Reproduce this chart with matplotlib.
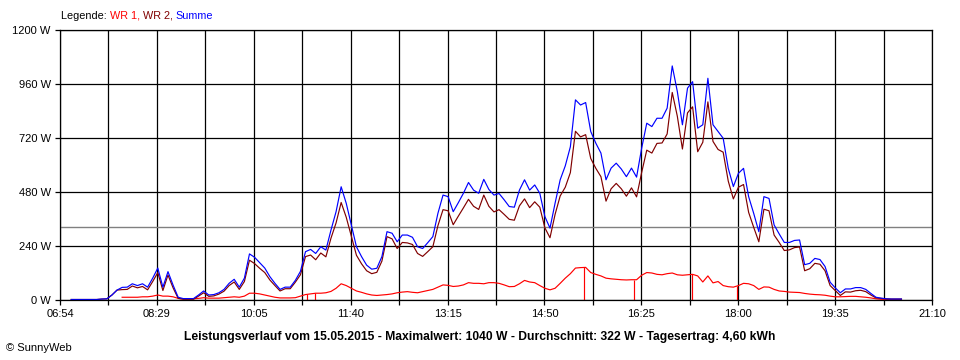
import numpy as np
import pandas as pd
import matplotlib
matplotlib.use('Agg')
import matplotlib.pyplot as plt

plt.rcParams['font.family'] = ['Liberation Sans', 'DejaVu Sans']

# 5-minute samples, 07:05 .. 20:40
times = pd.date_range('2015-05-15 07:05', '2015-05-15 20:40', freq='5min')

# WR 1 (no data before 07:55)
wr1 = [None] * 10 + [
    10, 10, 10, 10, 12, 12, 15, 20, 15, 15, 12, 5,
    3, 3, 3, 5, 8, 6, 6, 6, 8, 10, 12, 10, 15,
    28, 28, 25, 20, 15, 10, 7, 7, 7, 8, 15, 22,
    25, 28, 28, 30, 36, 50, 70, 62, 50, 38, 32, 25,
    20, 18, 20, 22, 25, 30, 33, 35, 32, 30, 35, 40,
    45, 55, 65, 63, 58, 60, 65, 75, 72, 72, 70, 75,
    75, 72, 65, 57, 58, 70, 85, 78, 75, 62, 50, 43,
    50, 72, 95, 115, 140, 142, 143, 120, 112, 105, 95, 92,
    90, 88, 87, 88, 88, 108, 120, 118, 112, 110, 115, 118,
    110, 108, 110, 112, 105, 78, 105, 74, 80, 62, 57, 55,
    62, 72, 70, 62, 45, 56, 55, 45, 38, 36, 33, 32,
    31, 27, 24, 22, 21, 19, 15, 12, 12, 13, 14, 14,
    12, 10, 7, 3, 1, 0, 0, 0, 0,
]

# WR 2
wr2 = [
    0, 0, 0, 0, 0, 0, 2, 3, 20, 42,
    44, 45, 60, 52, 58, 43, 80, 120, 40, 109, 52, 5,
    1, 1, 1, 15, 30, 14, 16, 24, 37, 62, 78, 45, 80,
    175, 160, 139, 120, 87, 62, 38, 48, 48, 77, 110, 191,
    198, 177, 207, 190, 273, 341, 432, 366, 282, 197, 159, 128,
    115, 121, 171, 280, 270, 227, 254, 252, 245, 205, 192, 213,
    235, 329, 400, 395, 333, 371, 408, 446, 415, 401, 465, 415,
    390, 400, 379, 357, 353, 417, 448, 409, 435, 411, 319, 275,
    379, 461, 500, 565, 749, 724, 734, 628, 584, 547, 438, 493,
    517, 493, 460, 497, 457, 566, 665, 652, 695, 697, 737, 922,
    816, 670, 831, 858, 658, 700, 880, 704, 668, 656, 527, 448,
    500, 512, 388, 321, 257, 402, 395, 287, 254, 218, 221, 231,
    234, 128, 137, 161, 157, 128, 62, 40, 18, 34, 33, 39,
    41, 35, 20, 7, 5, 3, 2, 2, 2,
]

# short drop-outs of WR 1
dip_times = ['10:56', '11:04', '15:28', '16:17', '17:14', '17:59']

avg_w = 322
x_labels = ['06:54', '08:29', '10:05', '11:40', '13:15', '14:50',
            '16:25', '18:00', '19:35', '21:10']
y_ticks = [0, 240, 480, 720, 960, 1200]
title = ('Leistungsverlauf vom 15.05.2015 - Maximalwert: 1040 W - '
         'Durchschnitt: 322 W - Tagesertrag: 4,60 kWh')

t = np.array(times.hour * 60 + times.minute, dtype=float)
w1 = np.array([np.nan if v is None else v for v in wr1], dtype=float)
w2 = np.array(wr2, dtype=float)
summe = np.nan_to_num(w1) + w2

def to_min(s):
    h, m = s.split(':')
    return int(h) * 60 + int(m)

fig = plt.figure(figsize=(9.6, 3.6), dpi=100)
ax = fig.add_axes([60 / 960, 60.5 / 360, 872 / 960, 269.5 / 360])

x0, x1 = to_min(x_labels[0]), to_min(x_labels[-1])
ax.set_xlim(x0, x1)
ax.set_ylim(0, 1200)

xt = np.linspace(x0, x1, 2 * len(x_labels) - 1)
xl = []
for i in range(len(xt)):
    xl.append(x_labels[i // 2] if i % 2 == 0 else '')
ax.set_xticks(xt)
ax.set_xticklabels(xl)
ax.set_yticks(y_ticks)
ax.set_yticklabels([f'{v} W' for v in y_ticks])

ax.grid(True, color='black', lw=0.9)
ax.set_axisbelow(True)
for s in ax.spines.values():
    s.set_color('black')
    s.set_linewidth(0.9)
ax.tick_params(length=3.6, width=0.9, direction='out', labelsize=8,
               colors='black', pad=3)

ax.axhline(avg_w, color='#808080', lw=1.0, zorder=1.5)

lw = 0.85
ax.plot(t, w1, color='#ff0000', lw=lw)
dm = np.array([to_min(s) for s in dip_times], dtype=float)
ax.vlines(dm, 0, np.interp(dm, t, np.nan_to_num(w1)), color='#ff0000', lw=lw)
ax.plot(t, w2, color='#800000', lw=lw)
ax.plot(t, summe, color='#0000ff', lw=lw)

fig.text(0.5, 1 - 337 / 360, title, ha='center', va='center',
         fontsize=8.7, fontweight='bold')
fig.text(6 / 960, 1 - 348 / 360, '\u00a9 SunnyWeb', ha='left', va='center',
         fontsize=8)

# legend line built from coloured pieces
fig.canvas.draw()
rend = fig.canvas.get_renderer()
xpos = 61
for txt, col in [('Legende: ', 'black'), ('WR 1, ', '#ff0000'),
                 ('WR 2, ', '#800000'), ('Summe', '#0000ff')]:
    tx = fig.text(xpos / 960, 1 - 16 / 360, txt, ha='left', va='center',
                  fontsize=7.8, color=col)
    bb = tx.get_window_extent(renderer=rend)
    xpos += bb.width

fig.savefig('out.png', dpi=100, facecolor='white')
